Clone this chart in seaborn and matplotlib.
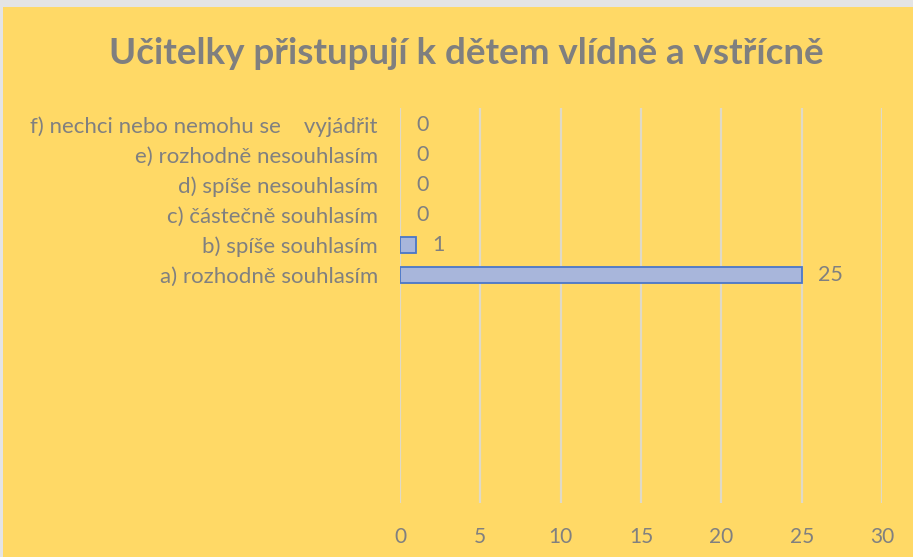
import matplotlib
matplotlib.use("Agg")
import matplotlib.pyplot as plt
import seaborn as sns
import pandas as pd
from matplotlib.patches import Rectangle

categories = [
    "f) nechci nebo nemohu se    vyjádřit",
    "e) rozhodně nesouhlasím",
    "d) spíše nesouhlasím",
    "c) částečně souhlasím",
    "b) spíše souhlasím",
    "a) rozhodně souhlasím",
]
values = [0, 0, 0, 0, 1, 25]
xticks = [0, 5, 10, 15, 20, 25, 30]
title = "Učitelky přistupují k dětem vlídně a vstřícně"

df = pd.DataFrame({"cat": categories, "val": values})

sns.set_theme(style="white")
plt.rcParams["font.family"] = ["Lato", "DejaVu Sans"]

W, H = 913, 557
fig = plt.figure(figsize=(W / 100, H / 100), dpi=100)
fig.patch.set_facecolor("#FFD966")
fig.patches.append(Rectangle((0, 1 - 7 / H), 1, 7 / H, transform=fig.transFigure,
                             facecolor="#E4E4E4", edgecolor="none", zorder=0))
fig.patches.append(Rectangle((0, 0), 3 / W, 1, transform=fig.transFigure,
                             facecolor="#E4E4E4", edgecolor="none", zorder=0))

ax = fig.add_axes([400 / W, 1 - 503 / H, (882 - 400) / W, (503 - 108) / H])
ax.set_zorder(2)
ax.set_facecolor("none")

sns.barplot(data=df, x="val", y="cat", orient="h", ax=ax, width=0.53,
            color="#9FB3E3", edgecolor="#4A76C8", linewidth=1.3, zorder=3)
for p in ax.patches:
    if p.get_width() == 0:
        p.set_linewidth(0)
        p.set_edgecolor("none")

ax.set_xlim(0, 30)
ax.set_ylim(12.6, -0.57)
ax.set_xticks(xticks)
ax.set_xticklabels([str(t) for t in xticks])
ax.grid(axis="x", color="#E0DAC6", linewidth=1.6, zorder=0)
ax.grid(axis="y", visible=False)
ax.set_axisbelow(True)
for s in ax.spines.values():
    s.set_visible(False)
ax.tick_params(axis="x", length=0, pad=17, labelsize=15, labelcolor="#808080")
ax.tick_params(axis="y", length=0, pad=16, labelsize=16, labelcolor="#808080")
ax.set_xlabel("")
ax.set_ylabel("")

for i, v in enumerate(values):
    ax.annotate(str(v), xy=(v, i), xytext=(12, 0), textcoords="offset points",
                ha="left", va="center", fontsize=15.5, color="#808080")

fig.text(466 / W, 1 - 53 / H, title, ha="center", va="center",
         fontsize=26.5, fontweight="bold", color="#7F7F7F")

fig.savefig("out.png", dpi=100, facecolor=fig.get_facecolor())
